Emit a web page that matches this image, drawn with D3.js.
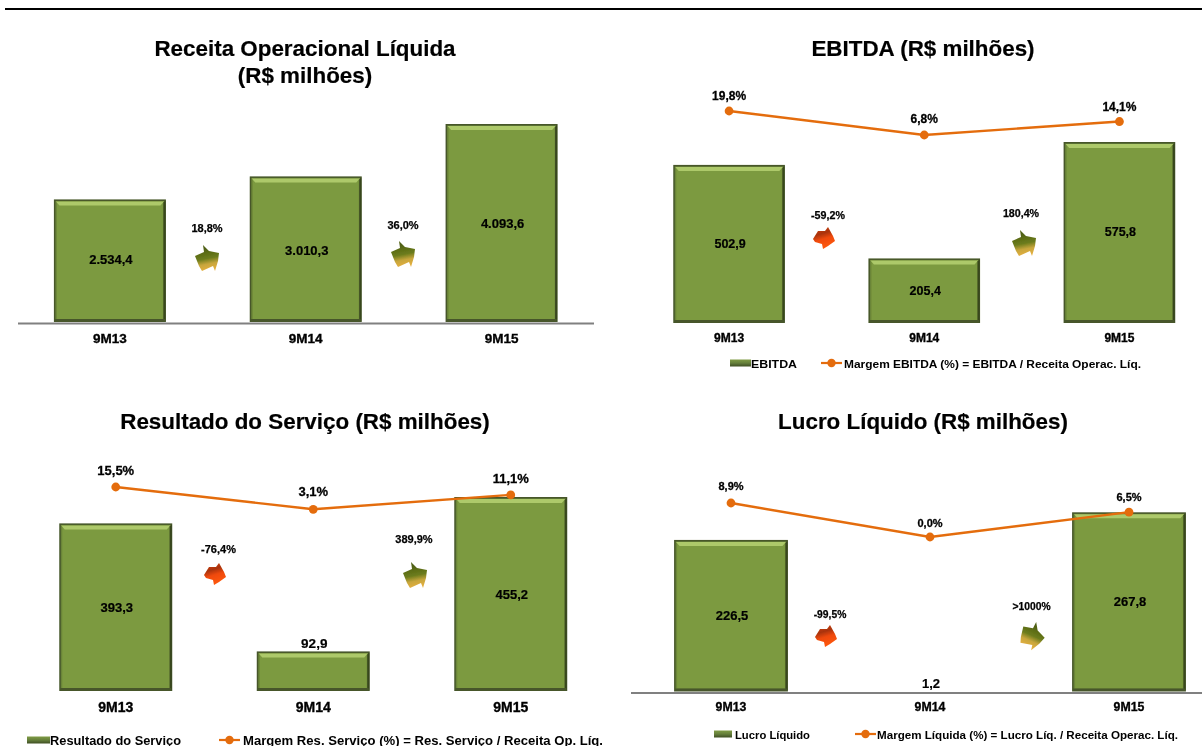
<!DOCTYPE html>
<html><head><meta charset="utf-8">
<script src="https://cdn.jsdelivr.net/npm/d3@7/dist/d3.min.js"></script>
<style>
html,body{margin:0;padding:0;background:#fff}
svg{display:block}
text{font-family:"Liberation Sans",Arial,sans-serif;fill:#000}
</style></head><body><svg id="c" width="1202" height="746"></svg>
<script>
const periods = ["9M13","9M14","9M15"];

const receitaValues = [2534.4,3010.3,4093.6];
const receitaLabels = ["2.534,4","3.010,3","4.093,6"];
const receitaGrowth = ["18,8%","36,0%"];

const ebitdaValues = [502.9,205.4,575.8];
const ebitdaLabels = ["502,9","205,4","575,8"];
const ebitdaMargin = [19.8,6.8,14.1];
const ebitdaMarginLabels = ["19,8%","6,8%","14,1%"];
const ebitdaGrowth = ["-59,2%","180,4%"];

const servicoValues = [393.3,92.9,455.2];
const servicoLabels = ["393,3","92,9","455,2"];
const servicoMargin = [15.5,3.1,11.1];
const servicoMarginLabels = ["15,5%","3,1%","11,1%"];
const servicoGrowth = ["-76,4%","389,9%"];

const lucroValues = [226.5,1.2,267.8];
const lucroLabels = ["226,5","1,2","267,8"];
const lucroMargin = [8.9,0.0,6.5];
const lucroMarginLabels = ["8,9%","0,0%","6,5%"];
const lucroGrowth = ["-99,5%",">1000%"];

const panels = [
 {title:["Receita Operacional Líquida","(R$ milhões)"],titleX:305,titleY:[56,83],titleSize:22.4,
  values:receitaValues,labels:receitaLabels,growth:receitaGrowth,
  band:[12,599.5],base:322,top:124,valueY:[264,255,228],valueSize:13,
  axis:[18,594],catY:343,catSize:13.5,
  growthXY:[[207,228],[403,225]],arrowXY:[[207,258],[403,254]],growthSize:11},
 {title:["EBITDA (R$ milhões)"],titleX:923,titleY:[56],titleSize:22.4,
  values:ebitdaValues,labels:ebitdaLabels,growth:ebitdaGrowth,
  margin:ebitdaMargin,marginLabels:ebitdaMarginLabels,lineDomain:[6.8,19.8],lineRange:[135,111],
  marginLabelY:[96,119,107],marginSize:12,
  band:[631.5,1217],base:323,top:142,valueY:[248,295,236],valueSize:12.5,
  catY:342,catSize:12,
  growthXY:[[828,215],[1021,213]],arrowXY:[[825,239],[1024,243]],growthSize:10.7,
  legend:{y:363,sw:[730,751],txt1:"EBITDA",txt1X:751,lx:[821,842],txt2:"Margem EBITDA (%) = EBITDA / Receita Operac. Líq.",txt2X:844,txt2W:297,txt1W:46,size:11.5}},
 {title:["Resultado do Serviço (R$ milhões)"],titleX:305,titleY:[429],titleSize:22.4,
  values:servicoValues,labels:servicoLabels,growth:servicoGrowth,
  margin:servicoMargin,marginLabels:servicoMarginLabels,lineDomain:[3.1,15.5],lineRange:[509.3,487],
  marginLabelY:[471,492,479],marginSize:13,
  band:[17,609.5],base:691,top:497,valueY:[612,648,599],valueSize:13,
  catY:712,catSize:14,labelAbove:[false,true,false],
  growthXY:[[218.5,549],[414,539]],arrowXY:[[216,575],[415,575]],growthSize:11,
  legend:{y:740,sw:[27,50],txt1:"Resultado do Serviço",txt1X:50,lx:[219,240],txt2:"Margem Res. Serviço (%) = Res. Serviço / Receita Op. Líq.",txt2X:243,txt2W:360,txt1W:131,size:12.5}},
 {title:["Lucro Líquido (R$ milhões)"],titleX:923,titleY:[429],titleSize:22.4,
  values:lucroValues,labels:lucroLabels,growth:lucroGrowth,
  margin:lucroMargin,marginLabels:lucroMarginLabels,lineDomain:[0,8.9],lineRange:[537,503],
  marginLabelY:[486,523,497],marginSize:11,
  band:[631.5,1228.5],base:691.5,top:512.3,valueY:[620,688,606],valueSize:13,
  axis:[631,1202],catY:711,catSize:12.3,
  growthXY:[[830,614],[1031.6,606]],arrowXY:[[827,637],[1032,635]],arrowRot:[0,35],growthSize:10.3,
  legend:{y:734,sw:[714,732],txt1:"Lucro Líquido",txt1X:735,lx:[855,876],txt2:"Margem Líquida (%) = Lucro Líq. / Receita Operac. Líq.",txt2X:877,txt2W:301,txt1W:75,size:11}}
];

const svg = d3.select("#c");
const defs = svg.append("defs");
const gUp = defs.append("linearGradient").attr("id","gold").attr("x1",0.35).attr("y1",0.15).attr("x2",0.5).attr("y2",1);
[[0,"#4f6012"],[0.45,"#6c7c1c"],[0.7,"#c8a63c"],[1,"#e6b040"]].forEach(s=>gUp.append("stop").attr("offset",s[0]).attr("stop-color",s[1]));
const gDn = defs.append("linearGradient").attr("id","red").attr("x1",0.3).attr("y1",0).attr("x2",0.6).attr("y2",1);
[[0,"#d04010"],[0.3,"#a93308"],[0.55,"#f04a08"],[1,"#ff5a10"]].forEach(s=>gDn.append("stop").attr("offset",s[0]).attr("stop-color",s[1]));
const gLeg = defs.append("linearGradient").attr("id","legSw").attr("x1",0).attr("y1",0).attr("x2",0).attr("y2",1);
[[0,"#7f9b45"],[0.5,"#66803a"],[1,"#3f4e25"]].forEach(s=>gLeg.append("stop").attr("offset",s[0]).attr("stop-color",s[1]));
const fSoft = defs.append("filter").attr("id","soft").attr("filterUnits","userSpaceOnUse")
  .attr("x",0).attr("y",0).attr("width",1202).attr("height",746);
fSoft.append("feGaussianBlur").attr("stdDeviation",0.35);

const root = svg.append("g").attr("filter","url(#soft)");

// top rule
root.append("rect").attr("x",5).attr("y",8).attr("width",1197).attr("height",2).attr("fill","#000");

const upShape = "M-4,-13 L2,-7 L12,-5 L11,3 L8,13 L6,8 L-5,13 L-8,8 L-12,-2 L-3,-6 Z";
const dnShape = "M-12,0 L-7,-8 L0,-8 L3,-12 L8,-3 L10,2 L3,7 L-2,10 L-3,5 L-10,3 Z";

function drawPanel(p){
  const g = root.append("g");
  p.title.forEach((t,i)=>g.append("text").attr("x",p.titleX).attr("y",p.titleY[i])
    .attr("text-anchor","middle").attr("font-size",p.titleSize).attr("font-weight","bold")
    .attr("stroke","#000").attr("stroke-width",0.2).text(t));

  const x = d3.scaleBand().domain(periods).range(p.band).paddingInner(0.428).paddingOuter(0.214);
  const y = d3.scaleLinear().domain([0,d3.max(p.values)]).range([p.base,p.top]);
  const w = x.bandwidth();
  const cx = d => x(d)+w/2;

  if(p.axis) g.append("line").attr("x1",p.axis[0]).attr("x2",p.axis[1]).attr("y1",p.base+1.5).attr("y2",p.base+1.5)
     .attr("stroke","#808080").attr("stroke-width",2);

  const items = periods.map((c,i)=>({c,v:p.values[i],i}));
  items.forEach(d=>{
    const t=y(d.v), h=p.base-t, bx=x(d.c);
    if(h<3){ return; }
    const b=g.append("g");
    b.append("rect").attr("x",bx).attr("y",t).attr("width",w).attr("height",h).attr("fill","#46562a");
    b.append("rect").attr("x",bx+1.5).attr("y",t+1.5).attr("width",w-3).attr("height",h-3).attr("fill","#6b8537");
    b.append("rect").attr("x",bx+3).attr("y",t+3).attr("width",w-6).attr("height",h-6).attr("fill","#7c9a40");
    b.append("path").attr("d",`M${bx+2},${t+2}L${bx+w-2},${t+2}L${bx+w-5.5},${t+6}L${bx+5.5},${t+6}Z`).attr("fill","#adc96a");
    b.append("path").attr("d",`M${bx+w-0.5},${t+1}L${bx+w-0.5},${p.base-1}L${bx+w-2.5},${p.base-3}L${bx+w-2.5},${t+3}Z`).attr("fill","#38461f");
    b.append("rect").attr("x",bx+1).attr("y",p.base-3).attr("width",w-2).attr("height",2.5).attr("fill","#46562a");
  });

  items.forEach(d=>{
    const above=p.labelAbove&&p.labelAbove[d.i];
    g.append("text").attr("x",cx(d.c)+1).attr("y",p.valueY[d.i]).attr("text-anchor","middle")
     .attr("font-size",above?13.5:p.valueSize).attr("font-weight","bold")
     .attr("stroke","#000").attr("stroke-width",0.2).text(p.labels[d.i]);
    g.append("text").attr("x",cx(d.c)).attr("y",p.catY).attr("text-anchor","middle")
     .attr("font-size",p.catSize).attr("font-weight","bold").attr("stroke","#000").attr("stroke-width",0.35).text(d.c);
  });

  p.growth.forEach((t,i)=>{
    const [gx,gy]=p.growthXY[i];
    g.append("text").attr("x",gx).attr("y",gy+4).attr("text-anchor","middle")
      .attr("font-size",p.growthSize).attr("font-weight","bold").attr("stroke","#000").attr("stroke-width",0.25).text(t);
    const neg=t.startsWith("-");
    const [ax,ay]=p.arrowXY[i];
    const rot=p.arrowRot?p.arrowRot[i]:0;
    g.append("path").attr("d",neg?dnShape:upShape).attr("transform",`translate(${ax},${ay}) rotate(${rot})`)
      .attr("fill",neg?"url(#red)":"url(#gold)");
  });

  if(p.margin){
    const ly=d3.scaleLinear().domain(p.lineDomain).range(p.lineRange);
    const pts=periods.map((c,i)=>({c,m:p.margin[i],i}));
    g.append("path").attr("fill","none").attr("stroke","#e46c0a").attr("stroke-width",2.4)
      .attr("d",d3.line().x(d=>cx(d.c)).y(d=>ly(d.m))(pts));
    g.selectAll(null).data(pts).join("circle").attr("cx",d=>cx(d.c)).attr("cy",d=>ly(d.m)).attr("r",4.4).attr("fill","#e46c0a");
    pts.forEach(d=>{
      g.append("text").attr("x",cx(d.c)).attr("y",p.marginLabelY[d.i]+4).attr("text-anchor","middle")
       .attr("font-size",p.marginSize).attr("font-weight","bold").attr("stroke","#000").attr("stroke-width",0.3).text(p.marginLabels[d.i]);
    });
  }

  if(p.legend){
    const l=p.legend;
    g.append("rect").attr("x",l.sw[0]).attr("y",l.y-3.5).attr("width",l.sw[1]-l.sw[0]).attr("height",7).attr("fill","url(#legSw)");
    g.append("text").attr("x",l.txt1X).attr("y",l.y+4.5).attr("font-size",l.size).attr("font-weight","bold")
      .attr("textLength",l.txt1W).attr("lengthAdjust","spacingAndGlyphs").text(l.txt1);
    g.append("line").attr("x1",l.lx[0]).attr("x2",l.lx[1]).attr("y1",l.y).attr("y2",l.y).attr("stroke","#e46c0a").attr("stroke-width",2.2);
    g.append("circle").attr("cx",(l.lx[0]+l.lx[1])/2).attr("cy",l.y).attr("r",4.2).attr("fill","#e46c0a");
    g.append("text").attr("x",l.txt2X).attr("y",l.y+4.5).attr("font-size",l.size).attr("font-weight","bold")
      .attr("textLength",l.txt2W).attr("lengthAdjust","spacingAndGlyphs").text(l.txt2);
  }
}
panels.forEach(drawPanel);
</script></body></html>
